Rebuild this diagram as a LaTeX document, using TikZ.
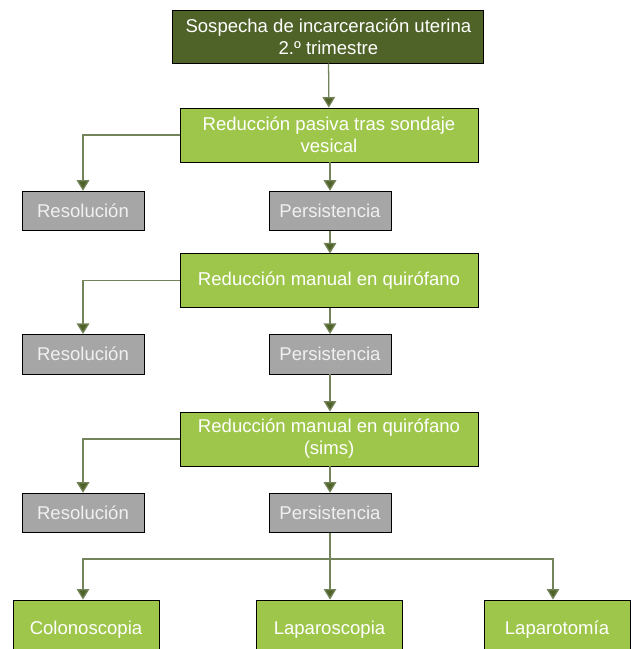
\documentclass[tikz,border=0pt]{standalone}
\usepackage{fontspec}
\setmainfont{Liberation Sans}
\usetikzlibrary{arrows.meta, positioning, calc}
\definecolor{cdark}{HTML}{4F6228}
\definecolor{clight}{HTML}{9EC64B}
\definecolor{cgrey}{HTML}{A6A6A6}
\definecolor{cline}{HTML}{74845A}
\tikzset{
  every picture/.style={font=\fontsize{13.2}{15.6}\selectfont},
  stage/.style={draw=black, line width=0.6pt, fill=#1, text=white, align=center, inner sep=2pt},
  stage/.default=clight,
  outcome/.style={draw=black, line width=0.6pt, fill=cgrey, text=white!94!black, minimum width=3.05cm, minimum height=0.99cm, inner sep=2pt},
  arrow/.style={-{Triangle[width=9pt, length=7.5pt, fill=cdark]}, draw=cline, line width=0.9pt},
}

\begin{document}
\begin{tikzpicture}
  \useasboundingbox (0,0) rectangle (15.75,16.225);
  % ---------- main path ----------
  \node[stage=cdark, minimum width=7.775cm, minimum height=1.325cm] (start) at (8.21, 15.3125) {Sospecha de incarceración uterina\\2.º trimestre};
  \node[stage, minimum width=7.45cm, minimum height=1.35cm] (pasiva) at (8.225, 12.85) {Reducción pasiva tras sondaje\\vesical};
  \node[outcome] (res1) at (2.075, 10.95) {Resolución};
  \node[outcome] (pers1) at (8.25, 10.95) {Persistencia};
  \node[stage, minimum width=7.45cm, minimum height=1.33cm] (manual) at (8.225, 9.2125) {Reducción manual en quirófano};
  \node[outcome] (res2) at (2.075, 7.37) {Resolución};
  \node[outcome] (pers2) at (8.25, 7.37) {Persistencia};
  \node[stage, minimum width=7.45cm, minimum height=1.35cm] (sims) at (8.225, 5.25) {Reducción manual en quirófano\\(sims)};
  \node[outcome] (res3) at (2.075, 3.4) {Resolución};
  \node[outcome] (pers3) at (8.25, 3.4) {Persistencia};
  % ---------- final options ----------
  \node[stage, minimum width=3.65cm, minimum height=1.5cm] (colon) at (2.15, 0.475) {Colonoscopia};
  \node[stage, minimum width=3.63cm, minimum height=1.5cm] (lapsc) at (8.2375, 0.475) {Laparoscopia};
  \node[stage, minimum width=3.65cm, minimum height=1.5cm] (lapto) at (13.925, 0.475) {Laparotomía};
  % ---------- arrows ----------
  \draw[arrow] (start) -- (pasiva);
  \draw[arrow] (pasiva.west) -| (res1.north);
  \draw[arrow] (pasiva.south -| pers1.north) -- (pers1.north);
  \draw[arrow] (pers1.south) -- (pers1.south |- manual.north);
  \draw[arrow] (manual.west) -| (res2.north);
  \draw[arrow] (manual.south -| pers2.north) -- (pers2.north);
  \draw[arrow] (pers2.south) -- (pers2.south |- sims.north);
  \draw[arrow] (sims.west) -| (res3.north);
  \draw[arrow] (sims.south -| pers3.north) -- (pers3.north);
  \coordinate (split) at (pers3.south |- 0,2.25);
  \draw[arrow] (pers3.south) -- (pers3.south |- lapsc.north);
  \draw[arrow] (split) -| ([xshift=-0.075cm]colon.north);
  \draw[arrow] (split) -| ([xshift=-0.1cm]lapto.north);
\end{tikzpicture}
\end{document}
